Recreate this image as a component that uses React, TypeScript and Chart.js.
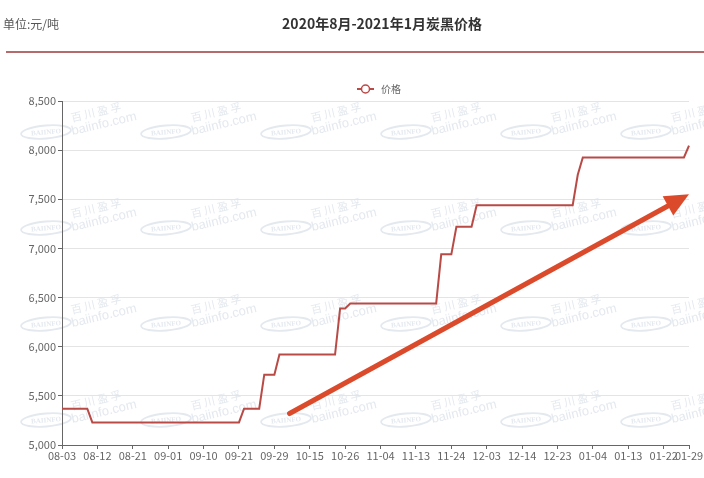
import React, { useEffect, useRef } from 'react';
import { Chart, registerables } from 'chart.js';

Chart.register(...registerables);

const titleText = '2020年8月-2021年1月炭黑价格';
const unitText = '单位:元/吨';
const seriesName = '价格';

const dates: string[] = [
  '08-03', '08-04', '08-05', '08-06', '08-07', '08-10', '08-11', '08-12', '08-13', '08-14',
  '08-17', '08-18', '08-19', '08-20', '08-21', '08-24', '08-25', '08-26', '08-27', '08-28',
  '08-31',
  '09-01', '09-02', '09-03', '09-04', '09-07', '09-08', '09-09', '09-10', '09-11', '09-14',
  '09-15', '09-16', '09-17', '09-18', '09-21', '09-22', '09-23', '09-24', '09-25', '09-27',
  '09-28', '09-29', '09-30',
  '10-09', '10-10', '10-12', '10-13', '10-14', '10-15', '10-16', '10-19', '10-20', '10-21',
  '10-22', '10-23', '10-26', '10-27', '10-28', '10-29', '10-30',
  '11-02', '11-03', '11-04', '11-05', '11-06', '11-09', '11-10', '11-11', '11-12', '11-13',
  '11-16', '11-17', '11-18', '11-19', '11-20', '11-23', '11-24', '11-25', '11-26', '11-27',
  '11-30',
  '12-01', '12-02', '12-03', '12-04', '12-07', '12-08', '12-09', '12-10', '12-11', '12-14',
  '12-15', '12-16', '12-17', '12-18', '12-21', '12-22', '12-23', '12-24', '12-25', '12-28',
  '12-29', '12-30', '12-31',
  '01-04', '01-05', '01-06', '01-07', '01-08', '01-11', '01-12', '01-13', '01-14', '01-15',
  '01-18', '01-19', '01-20', '01-21', '01-22', '01-25', '01-26', '01-27', '01-28', '01-29',
];

const prices: number[] = [
  5370, 5370, 5370, 5370, 5370, 5370, 5230, 5230, 5230, 5230,
  5230, 5230, 5230, 5230, 5230, 5230, 5230, 5230, 5230, 5230,
  5230, 5230, 5230, 5230, 5230, 5230, 5230, 5230, 5230, 5230,
  5230, 5230, 5230, 5230, 5230, 5230, 5370, 5370, 5370, 5370,
  5715, 5715, 5715, 5920, 5920, 5920, 5920, 5920, 5920, 5920,
  5920, 5920, 5920, 5920, 5920, 6390, 6390, 6440, 6440, 6440,
  6440, 6440, 6440, 6440, 6440, 6440, 6440, 6440, 6440, 6440,
  6440, 6440, 6440, 6440, 6440, 6940, 6940, 6940, 7220, 7220,
  7220, 7220, 7440, 7440, 7440, 7440, 7440, 7440, 7440, 7440,
  7440, 7440, 7440, 7440, 7440, 7440, 7440, 7440, 7440, 7440,
  7440, 7440, 7750, 7925, 7925, 7925, 7925, 7925, 7925, 7925,
  7925, 7925, 7925, 7925, 7925, 7925, 7925, 7925, 7925, 7925,
  7925, 7925, 7925, 7925, 8045,
];

const yTicks: number[] = [5000, 5500, 6000, 6500, 7000, 7500, 8000, 8500];
const xLabelEvery = 7;

// annotation arrow in data coordinates: [category, value]
const arrowFrom: [string, number] = ['10-10', 5320];
const arrowTo: [string, number] = ['01-29', 7550];

const lineColor = '#b94a46';
const arrowColor = '#dc4a2c';
const axisColor = '#666666';
const gridColor = '#e4e4e4';
const markColor = '#e4e9ef';
const CJK = '"Noto Sans CJK SC", "Noto Sans", sans-serif';

function drawWatermark(ctx: CanvasRenderingContext2D, cx: number, cy: number) {
  ctx.save();
  ctx.translate(cx, cy);
  ctx.rotate(-0.08);
  ctx.strokeStyle = markColor;
  ctx.lineWidth = 1.8;
  ctx.beginPath();
  ctx.ellipse(0, 0, 25, 6.5, 0, 0, Math.PI * 2);
  ctx.stroke();
  ctx.fillStyle = markColor;
  ctx.font = 'bold 7px "Liberation Serif", serif';
  ctx.textAlign = 'center';
  ctx.textBaseline = 'middle';
  ctx.fillText('BAIINFO', 0, 0.5);
  ctx.restore();

  ctx.save();
  ctx.translate(cx + 58, cy - 8);
  ctx.rotate(-0.23);
  ctx.fillStyle = markColor;
  ctx.textAlign = 'center';
  ctx.textBaseline = 'middle';
  ctx.font = '13px "Liberation Sans", sans-serif';
  ctx.fillText('baiinfo.com', 0, 0);
  ctx.restore();

  ctx.save();
  ctx.translate(cx + 50, cy - 20);
  ctx.rotate(-0.23);
  ctx.fillStyle = markColor;
  ctx.textAlign = 'center';
  ctx.textBaseline = 'middle';
  ctx.font = `11px ${CJK}`;
  ctx.fillText('百 川 盈 孚', 0, 0);
  ctx.restore();
}

const decorPlugin = {
  id: 'decor',
  beforeDraw(chart: any) {
    const ctx: CanvasRenderingContext2D = chart.ctx;
    ctx.save();
    ctx.fillStyle = '#ffffff';
    ctx.fillRect(0, 0, chart.width, chart.height);
    for (let j = 0; j < 4; j++) {
      for (let k = 0; k < 6; k++) {
        drawWatermark(ctx, 46 + 120 * k, 132 + 96 * j);
      }
    }
    ctx.restore();
  },
  afterDatasetsDraw(chart: any) {
    const ctx: CanvasRenderingContext2D = chart.ctx;
    const xs = chart.scales.x;
    const ys = chart.scales.y;
    const x1 = xs.getPixelForValue(dates.indexOf(arrowFrom[0]));
    const y1 = ys.getPixelForValue(arrowFrom[1]);
    const x2 = xs.getPixelForValue(dates.indexOf(arrowTo[0]));
    const y2 = ys.getPixelForValue(arrowTo[1]);
    const ang = Math.atan2(y2 - y1, x2 - x1);
    const headLen = 24;
    const headW = 11;
    const c = Math.cos(ang);
    const s = Math.sin(ang);
    const bx = x2 - headLen * c;
    const by = y2 - headLen * s;
    ctx.save();
    ctx.strokeStyle = arrowColor;
    ctx.fillStyle = arrowColor;
    ctx.lineWidth = 5;
    ctx.lineCap = 'round';
    ctx.beginPath();
    ctx.moveTo(x1, y1);
    ctx.lineTo(bx + 2 * c, by + 2 * s);
    ctx.stroke();
    ctx.beginPath();
    ctx.moveTo(x2, y2);
    ctx.lineTo(bx - headW * s, by + headW * c);
    ctx.lineTo(bx + headW * s, by - headW * c);
    ctx.closePath();
    ctx.fill();
    ctx.restore();
  },
  afterDraw(chart: any) {
    const ctx: CanvasRenderingContext2D = chart.ctx;
    ctx.save();
    // unit
    ctx.fillStyle = '#555555';
    ctx.font = `12px ${CJK}`;
    ctx.textAlign = 'left';
    ctx.textBaseline = 'middle';
    ctx.fillText(unitText, 3, 24);
    // title
    ctx.fillStyle = '#333333';
    ctx.font = `bold 14px ${CJK}`;
    ctx.textAlign = 'center';
    ctx.fillText(titleText, 382, 24);
    // header rule
    ctx.strokeStyle = '#b56b6b';
    ctx.lineWidth = 2;
    ctx.beginPath();
    ctx.moveTo(6, 52);
    ctx.lineTo(chart.width, 52);
    ctx.stroke();
    // legend
    const ly = 89;
    ctx.strokeStyle = lineColor;
    ctx.lineWidth = 2;
    ctx.beginPath();
    ctx.moveTo(357, ly);
    ctx.lineTo(374, ly);
    ctx.stroke();
    ctx.beginPath();
    ctx.arc(365.5, ly, 4, 0, Math.PI * 2);
    ctx.fillStyle = '#ffffff';
    ctx.fill();
    ctx.lineWidth = 1.5;
    ctx.stroke();
    ctx.fillStyle = '#666666';
    ctx.font = `10px ${CJK}`;
    ctx.textAlign = 'left';
    ctx.fillText(seriesName, 381, ly);
    ctx.restore();
  },
};

export default function App() {
  const canvasRef = useRef<HTMLCanvasElement | null>(null);

  useEffect(() => {
    document.body.style.margin = '0';
    const canvas = canvasRef.current;
    if (!canvas) return;
    const chart = new Chart(canvas, {
      type: 'line',
      data: {
        labels: dates,
        datasets: [
          {
            label: seriesName,
            data: prices,
            borderColor: lineColor,
            backgroundColor: lineColor,
            borderWidth: 2,
            pointRadius: 0,
            pointHoverRadius: 0,
            tension: 0,
            fill: false,
          },
        ],
      },
      options: {
        animation: false,
        responsive: true,
        maintainAspectRatio: false,
        locale: 'en-US',
        layout: { padding: { left: 0, right: 15, top: 101, bottom: 0 } },
        plugins: {
          legend: { display: false },
          tooltip: { enabled: false },
          title: { display: false },
        },
        scales: {
          x: {
            type: 'category',
            offset: false,
            grid: {
              drawOnChartArea: false,
              drawTicks: true,
              tickLength: 4,
              tickColor: axisColor,
            },
            border: { display: true, color: axisColor, width: 1 },
            ticks: {
              autoSkip: false,
              maxRotation: 0,
              minRotation: 0,
              padding: 0,
              color: '#666666',
              font: { family: CJK, size: 11 },
              callback: (_v: any, i: number) =>
                i % xLabelEvery === 0 || i === dates.length - 1 ? dates[i] : null,
            },
            afterFit: (scale: any) => {
              scale.height = 33;
            },
          },
          y: {
            min: yTicks[0],
            max: yTicks[yTicks.length - 1],
            afterBuildTicks: (scale: any) => {
              scale.ticks = yTicks.map((v) => ({ value: v }));
            },
            grid: {
              color: gridColor,
              lineWidth: 1,
              drawTicks: true,
              tickLength: 4,
              tickColor: axisColor,
            },
            border: { display: true, color: axisColor, width: 1 },
            ticks: {
              padding: 2,
              color: '#666666',
              font: { family: CJK, size: 11 },
              callback: (v: any) => Number(v).toLocaleString('en-US'),
            },
            afterFit: (scale: any) => {
              scale.width = 62;
            },
          },
        },
      },
      plugins: [decorPlugin],
    });
    return () => {
      chart.destroy();
    };
  }, []);

  return (
    <div style={{ position: 'relative', width: 704, height: 478 }}>
      <canvas ref={canvasRef} />
    </div>
  );
}
